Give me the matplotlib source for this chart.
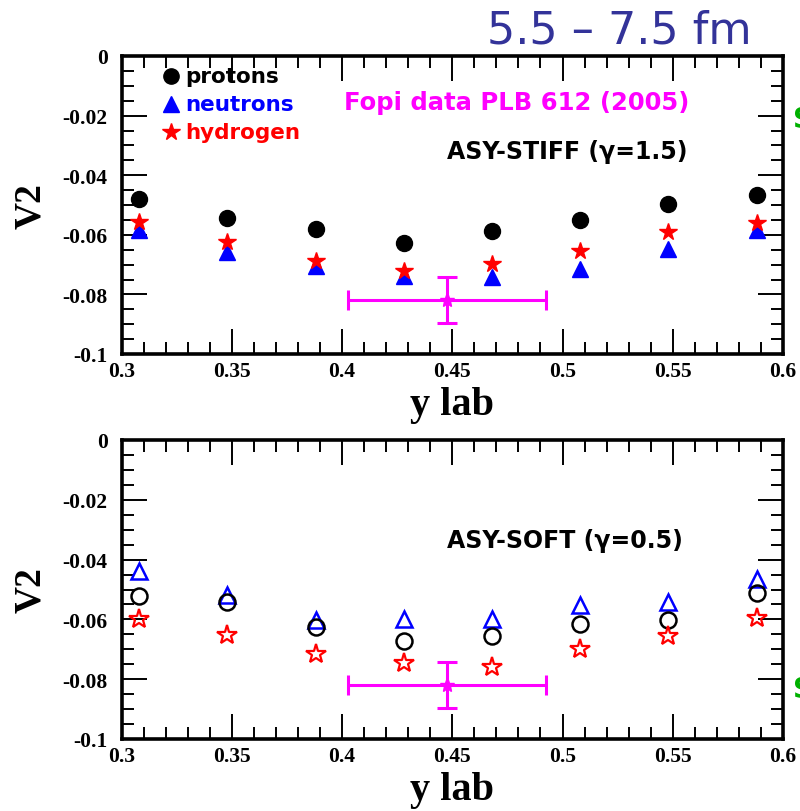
import matplotlib
matplotlib.use("Agg")
import matplotlib.pyplot as plt
from matplotlib.ticker import MultipleLocator, FixedLocator, FixedFormatter

# rapidity bins (y lab)
y_lab = [0.308, 0.348, 0.388, 0.428, 0.468, 0.508, 0.548, 0.588]

# ASY-STIFF (gamma = 1.5)
stiff_protons = [-0.0480, -0.0544, -0.0580, -0.0628, -0.0587, -0.0550, -0.0497, -0.0466]
stiff_neutrons = [-0.0584, -0.0658, -0.0705, -0.0738, -0.0742, -0.0715, -0.0648, -0.0584]
stiff_hydrogen = [-0.0557, -0.0624, -0.0688, -0.0721, -0.0698, -0.0654, -0.0590, -0.0560]

# ASY-SOFT (gamma = 0.5)
soft_protons = [-0.0522, -0.0542, -0.0625, -0.0672, -0.0656, -0.0615, -0.0602, -0.0512]
soft_neutrons = [-0.0438, -0.0518, -0.0602, -0.0599, -0.0599, -0.0552, -0.0542, -0.0465]
soft_hydrogen = [-0.0599, -0.0652, -0.0716, -0.0746, -0.0759, -0.0699, -0.0656, -0.0595]

# FOPI measurement, PLB 612 (2005)
fopi_y = 0.4475
fopi_v2 = -0.0820
fopi_xerr = 0.045
fopi_yerr = 0.0077

x_ticks = [0.3, 0.35, 0.4, 0.45, 0.5, 0.55, 0.6]
x_tick_labels = ["0.3", "0.35", "0.4", "0.45", "0.5", "0.55", "0.6"]
y_ticks = [0.0, -0.02, -0.04, -0.06, -0.08, -0.1]
y_tick_labels = ["0", "-0.02", "-0.04", "-0.06", "-0.08", "-0.1"]

W, H = 800, 812
fig = plt.figure(figsize=(W / 100, H / 100), dpi=100)

serif = "Liberation Serif"
heavy = "DejaVu Sans"


def frame(ax):
    ax.set_xlim(0.3, 0.6)
    ax.set_ylim(-0.1, 0.0)
    ax.xaxis.set_major_locator(FixedLocator(x_ticks))
    ax.xaxis.set_major_formatter(FixedFormatter(x_tick_labels))
    ax.xaxis.set_minor_locator(MultipleLocator(0.01))
    ax.yaxis.set_major_locator(FixedLocator(y_ticks))
    ax.yaxis.set_major_formatter(FixedFormatter(y_tick_labels))
    ax.yaxis.set_minor_locator(MultipleLocator(0.005))
    ax.tick_params(which="both", direction="in", top=True, right=True,
                   width=1.4, color="black")
    ax.tick_params(which="major", length=18)
    ax.tick_params(axis="y", which="major", pad=10)
    ax.tick_params(axis="x", which="major", pad=5)
    ax.tick_params(which="minor", length=8.5)
    for lab in ax.get_xticklabels() + ax.get_yticklabels():
        lab.set_fontfamily(serif)
        lab.set_fontweight("bold")
        lab.set_fontsize(15.5)
    for s in ax.spines.values():
        s.set_linewidth(2.6)
    ax.set_xlabel("y lab", fontfamily=serif, fontweight="bold", fontsize=29)
    ax.xaxis.set_label_coords(0.5, -0.168)
    ax.xaxis.label.set_va("center")
    ax.set_ylabel("V2", fontfamily=serif, fontweight="bold", fontsize=27)
    ax.yaxis.set_label_coords(-0.138, 0.5)
    ax.yaxis.label.set_va("center")


def fopi(ax):
    ax.errorbar([fopi_y], [fopi_v2], xerr=[fopi_xerr], yerr=[fopi_yerr],
                fmt="*", color="#ff00ff", ms=11, elinewidth=2.2, capsize=7,
                capthick=2.2, zorder=3)


left = 121.5 / W
width = (783 - 121.5) / W
ax1 = fig.add_axes([left, 1 - 355 / H, width, (355 - 57) / H])
ax2 = fig.add_axes([left, 1 - 740 / H, width, (740 - 441) / H])

# top panel: filled markers
ax1.plot(y_lab, stiff_neutrons, "^", color="#0000ff", ms=11, ls="none", zorder=3)
ax1.plot(y_lab, stiff_hydrogen, "*", color="#ff0000", ms=13, ls="none", zorder=4)
ax1.plot(y_lab, stiff_protons, "o", color="black", ms=11.5, ls="none", zorder=4)
fopi(ax1)
frame(ax1)

# legend drawn as labelled markers
leg_items = [("o", "black", "protons", 11), ("^", "#0000ff", "neutrons", 11),
             ("*", "#ff0000", "hydrogen", 13)]
for i, (m, c, t, s) in enumerate(leg_items):
    yy = -0.0068 - i * 0.0093
    ax1.plot([0.3225], [yy], m, color=c, ms=s, clip_on=False)
    ax1.text(0.3290, yy, t, color=c, fontfamily=heavy, fontweight="heavy",
             fontsize=15.5, va="center", ha="left")

ax1.text(0.4010, -0.0155, "Fopi data PLB 612 (2005)", color="#ff00ff",
         fontfamily=heavy, fontweight="bold", fontsize=17.5, va="center", ha="left")
ax1.text(0.4475, -0.0318, "ASY-STIFF (\u03b3=1.5)", color="black",
         fontfamily=heavy, fontweight="bold", fontsize=17, va="center", ha="left")

# bottom panel: open markers
ax2.plot(y_lab, soft_neutrons, "^", mfc="none", mec="#0000ff", mew=1.8, ms=12, ls="none", zorder=3)
ax2.plot(y_lab, soft_protons, "o", mfc="none", mec="black", mew=1.8, ms=11.5, ls="none", zorder=3)
ax2.plot(y_lab, soft_hydrogen, "*", mfc="none", mec="#ff0000", mew=1.6, ms=15, ls="none", zorder=3)
fopi(ax2)
frame(ax2)
ax2.text(0.4475, -0.0335, "ASY-SOFT (\u03b3=0.5)", color="black",
         fontfamily=heavy, fontweight="bold", fontsize=17, va="center", ha="left")

# header
fig.text(752 / W, 1 - 31 / H, "5.5 \u2013 7.5 fm", color="#333399",
         fontfamily="DejaVu Sans", fontsize=32, ha="right", va="center")

# green side letters, cut at the figure edge
fig.text(793 / W, 1 - 120 / H, "S", color="#00b000", fontfamily="DejaVu Sans",
         fontweight="bold", fontsize=20, ha="left", va="center")
fig.text(793 / W, 1 - 690 / H, "S", color="#00b000", fontfamily="DejaVu Sans",
         fontweight="bold", fontsize=20, ha="left", va="center")

fig.savefig("out.png", dpi=100)
